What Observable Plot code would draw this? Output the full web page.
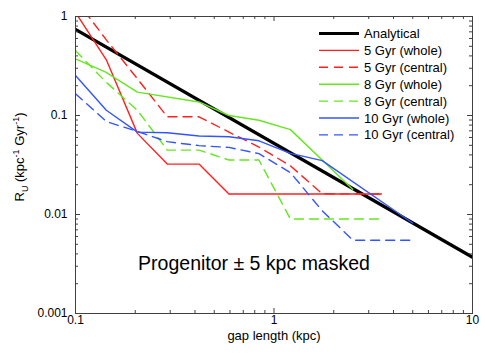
<!DOCTYPE html>
<html><head><meta charset="utf-8">
<script src="https://cdn.jsdelivr.net/npm/d3@7"></script>
<script src="https://cdn.jsdelivr.net/npm/@observablehq/plot@0.6"></script>
<style>
body{margin:0;background:#fff;}
#wrap{position:relative;width:485px;height:354px;font-family:"Liberation Sans",Arial,sans-serif;}
#legend{position:absolute;left:0;top:0;}
</style></head><body><div id="wrap"></div>
<script>
// ---- data ----
const seriesNames = ["Analytical","5 Gyr (whole)","5 Gyr (central)","8 Gyr (whole)","8 Gyr (central)","10 Gyr (whole)","10 Gyr (central)"];

const analyticalX = [0.1, 10];
const analyticalY = [0.74, 0.0037];

const red5WholeX = [0.1, 0.143, 0.205, 0.29, 0.419, 0.593, 3.48];
const red5WholeY = [1.1, 0.365, 0.066, 0.0323, 0.0323, 0.0161, 0.0161];

const red5CentralX = [0.1, 0.143, 0.205, 0.29, 0.419, 0.593, 0.84, 1.21, 1.75, 3.48];
const red5CentralY = [1.5, 0.58, 0.235, 0.097, 0.097, 0.068, 0.048, 0.031, 0.0162, 0.0161];

const green8WholeX = [0.1, 0.142, 0.205, 0.419, 0.593, 0.84, 1.21, 2.49];
const green8WholeY = [0.373, 0.274, 0.172, 0.137, 0.1, 0.0895, 0.072, 0.018];

const green8CentralX = [0.1, 0.143, 0.205, 0.29, 0.419, 0.593, 0.84, 1.21, 3.48];
const green8CentralY = [0.452, 0.216, 0.113, 0.0447, 0.0447, 0.0355, 0.0355, 0.009, 0.009];

const blue10WholeX = [0.1, 0.143, 0.205, 0.29, 0.419, 0.593, 0.84, 1.21, 1.75, 4.99];
const blue10WholeY = [0.254, 0.113, 0.068, 0.067, 0.062, 0.061, 0.0555, 0.0414, 0.035, 0.0082];

const blue10CentralX = [0.1, 0.143, 0.205, 0.29, 0.419, 0.593, 0.84, 1.21, 1.75, 2.5, 4.93];
const blue10CentralY = [0.166, 0.087, 0.069, 0.0544, 0.0496, 0.0476, 0.0412, 0.0265, 0.0109, 0.0055, 0.0055];

const xMajorTicks = [0.1, 1, 10];
const xMinorTicks = [0.2,0.3,0.4,0.5,0.6,0.7,0.8,0.9,2,3,4,5,6,7,8,9];
const yMajorTicks = [0.001, 0.01, 0.1, 1];
const yMinorTicks = [0.002,0.003,0.004,0.005,0.006,0.007,0.008,0.009,0.02,0.03,0.04,0.05,0.06,0.07,0.08,0.09,0.2,0.3,0.4,0.5,0.6,0.7,0.8,0.9];

const xLabel = "gap length (kpc)";
const annotation = "Progenitor \u00b1 5 kpc masked";

// ---- styles ----
const seriesStyles = [
  {color:"#000000", width:3.2, dash:null},
  {color:"#ff2020", width:1.4, dash:null},
  {color:"#ff2020", width:1.4, dash:"9,6"},
  {color:"#66e622", width:1.4, dash:null},
  {color:"#66e622", width:1.4, dash:"9,6"},
  {color:"#3355ff", width:1.4, dash:null},
  {color:"#3355ff", width:1.4, dash:"9,6"}
];

const seriesData = [
  [analyticalX, analyticalY],
  [red5WholeX, red5WholeY],
  [red5CentralX, red5CentralY],
  [green8WholeX, green8WholeY],
  [green8CentralX, green8CentralY],
  [blue10WholeX, blue10WholeY],
  [blue10CentralX, blue10CentralY]
].map(([xs, ys], k) => xs.map((x, i) => ({series: seriesNames[k], x, y: ys[i]})));

const W = 485, H = 354;
const mL = 75, mR = 13, mT = 16, mB = 41;
const fW = W - mL - mR, fH = H - mT - mB;
const axisColor = "#404040";

const lineMarks = seriesData.map((d, k) => Plot.line(d, {
  x: "x", y: "y", stroke: seriesStyles[k].color, strokeWidth: seriesStyles[k].width,
  strokeDasharray: seriesStyles[k].dash, clip: true
}));

const chart = Plot.plot({
  width: W, height: H,
  marginLeft: mL, marginRight: mR, marginTop: mT, marginBottom: mB,
  style: {fontFamily: '"Liberation Sans", Arial, sans-serif', fontSize: "12px", background: "white", color: "black"},
  x: {type: "log", domain: [0.1, 10], label: null},
  y: {type: "log", domain: [0.001, 1], label: null},
  marks: [
    ...lineMarks,
    // inward ticks, bottom/top
    Plot.tickX(xMajorTicks, {x: d => d, stroke: axisColor, insetTop: fH - 5}),
    Plot.tickX(xMinorTicks, {x: d => d, stroke: axisColor, insetTop: fH - 3}),
    Plot.tickX(xMajorTicks, {x: d => d, stroke: axisColor, insetBottom: fH - 5}),
    Plot.tickX(xMinorTicks, {x: d => d, stroke: axisColor, insetBottom: fH - 3}),
    // inward ticks, left/right
    Plot.tickY(yMajorTicks, {y: d => d, stroke: axisColor, insetRight: fW - 5}),
    Plot.tickY(yMinorTicks, {y: d => d, stroke: axisColor, insetRight: fW - 3}),
    Plot.tickY(yMajorTicks, {y: d => d, stroke: axisColor, insetLeft: fW - 5}),
    Plot.tickY(yMinorTicks, {y: d => d, stroke: axisColor, insetLeft: fW - 3}),
    Plot.frame({stroke: axisColor, strokeWidth: 1}),
    Plot.axisX({ticks: xMajorTicks, tickSize: 0, tickPadding: 2, tickFormat: d => String(d), label: null, fontSize: 12}),
    Plot.axisY({ticks: yMajorTicks, tickSize: 0, tickPadding: 8, tickFormat: d => String(d), label: null, fontSize: 12}),
    Plot.text([xLabel], {text: d => d, frameAnchor: "bottom", dy: 26, fontSize: 13, fill: "black"}),
    Plot.text([annotation], {text: d => d, frameAnchor: "bottom", dx: -20, dy: -44, fontSize: 19.5, fill: "black"})
  ]
});

document.getElementById("wrap").appendChild(chart);

// y-axis label with subscript / superscripts
const svg = d3.select(chart);
const yl = svg.append("text")
  .attr("transform", "translate(24,157) rotate(-90)")
  .attr("text-anchor", "middle")
  .attr("font-size", 13)
  .attr("fill", "black");
yl.append("tspan").text("R");
yl.append("tspan").attr("font-size", 9).attr("dy", 4).text("U");
yl.append("tspan").attr("dy", -4).text(" (kpc");
yl.append("tspan").attr("font-size", 9).attr("dy", -5).text("-1");
yl.append("tspan").attr("dy", 5).text(" Gyr");
yl.append("tspan").attr("font-size", 9).attr("dy", -5).text("-1");
yl.append("tspan").attr("dy", 5).text(")");

// legend
const legendTop = 33.5, legendStep = 16.9, legendX1 = 319, legendX2 = 359, legendTextX = 364;
const lg = d3.select("#wrap").append("svg").attr("id", "legend").attr("width", W).attr("height", H)
  .style("pointer-events", "none");
seriesNames.forEach((name, k) => {
  const yy = legendTop + k * legendStep;
  lg.append("line").attr("x1", legendX1).attr("x2", legendX2).attr("y1", yy).attr("y2", yy)
    .attr("stroke", seriesStyles[k].color).attr("stroke-width", seriesStyles[k].width)
    .attr("stroke-dasharray", seriesStyles[k].dash);
  lg.append("text").attr("x", legendTextX).attr("y", yy).attr("dy", "0.35em")
    .attr("font-size", 13).attr("font-family", '"Liberation Sans", Arial, sans-serif')
    .attr("fill", "black").text(name);
});
</script></body></html>
